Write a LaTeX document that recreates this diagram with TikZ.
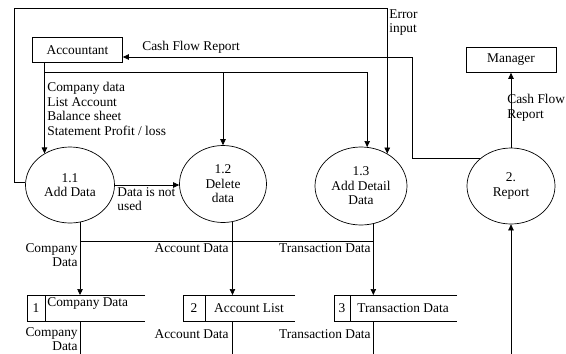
\documentclass[tikz,border=0pt]{standalone}
\usepackage{fontspec}
\setmainfont{Liberation Serif}
\usetikzlibrary{arrows.meta,shapes.geometric}

\tikzset{
  proc/.style={draw,ellipse,inner sep=0pt,align=center},
  ent/.style={draw,minimum width=90pt,minimum height=25pt,inner sep=0pt},
  flow/.style={-{Triangle[length=6pt,width=5.5pt]}},
  lbl/.style={inner sep=0pt,align=left,anchor=north west},
  rlbl/.style={inner sep=0pt,align=right,anchor=north east},
}

\begin{document}
\begin{tikzpicture}[x=1pt,y=-1pt,line width=0.7pt,font=\fontsize{13.4}{14.5}\selectfont]
  \useasboundingbox (0,0) rectangle (566,354);

  \coordinate (corner) at (14,8);
  \coordinate (split) at (45,72);
  \coordinate (cfr) at (412,57);
  \coordinate (bus) at (0,241);
  \coordinate (edge) at (0,354);

  \node[ent] (acc) at (77.5,50) {Accountant};
  \node[ent] (mgr) at (511,60) {Manager};

  \node[proc,minimum width=89pt,minimum height=76pt] (p11) at (70,185) {1.1\\Add Data};
  \node[proc,minimum width=87pt,minimum height=77pt] (p12) at (223,184) {1.2\\Delete\\data};
  \node[proc,minimum width=92pt,minimum height=78pt] (p13) at (361,186) {1.3\\Add Detail\\Data};
  \node[proc,minimum width=88pt,minimum height=76pt] (p2) at (511,186) {2.\\Report};

  % data stores, open on the right
  \foreach \n/\l/\r/\d in {1/27/145/45, 2/183/295/205, 3/334/457/350} {
    \draw (\r,295) -- (\l,295) -- (\l,321) -- (\r,321);
    \draw (\d,295) -- (\d,321);
    \node (num\n) at ({(\l+\d)/2},308) {\n};
    \coordinate (top\n) at (\l,295);
    \coordinate (bot\n) at (\l,321);
  }
  \node[anchor=west,inner sep=0pt] (st1) at (47,304) {Company Data};
  \node (st2) at (249,308) {Account List};
  \node (st3) at (403,308) {Transaction Data};

  % flows from the accountant
  \draw[flow] (p2.139) -| (cfr) -- (acc.east |- cfr);
  \draw[flow] (acc.south -| p11.129) -- (p11.129);
  \draw[flow] (split) -| (p13.81);
  \draw[flow] (split -| p12.north) -- (p12.north);
  \draw[flow] (p11.176) -| (corner) -| (p13.51);
  \draw[flow] (p11.east) -- (p11.east -| p12.west);

  % flows into the stores
  \draw[flow] (p11.-75) -- (p11.-75 |- top1);
  \draw[flow] (p12.-76) -- (p12.-76 |- top2);
  \draw[flow] (p13.-72) -- (p13.-72 |- top3);
  \draw (p11.-75 |- bus) -- (p13.-72 |- bus);
  \draw (p11.-75 |- bot1) -- (p11.-75 |- edge);
  \draw (p12.-76 |- bot2) -- (p12.-76 |- edge);
  \draw (p13.-72 |- bot3) -- (p13.-72 |- edge);

  \draw[flow] (p2.south |- edge) -- (p2.south);
  \draw[flow] (p2.north) -- (mgr.south);

  \node[lbl] (l1) at (47,82) {Company data\\List Account\\Balance sheet\\Statement Profit / loss};
  \node[anchor=base west,inner sep=0pt] (l2) at (142,50) {Cash Flow Report};
  \node[lbl] (l3) at (389,9) {Error\\input};
  \node[lbl] (l4) at (507,94) {Cash Flow\\Report};
  \node[lbl] (l5) at (117,187) {Data is not\\used};
  \node[rlbl] (l6) at (78,243) {Company\\Data};
  \node[rlbl] (l7) at (229,243) {Account Data};
  \node[rlbl] (l8) at (371,243) {Transaction Data};
  \node[rlbl] (l9) at (78,327) {Company\\Data};
  \node[rlbl] (l10) at (229,329) {Account Data};
  \node[rlbl] (l11) at (371,329) {Transaction Data};
\end{tikzpicture}
\end{document}
